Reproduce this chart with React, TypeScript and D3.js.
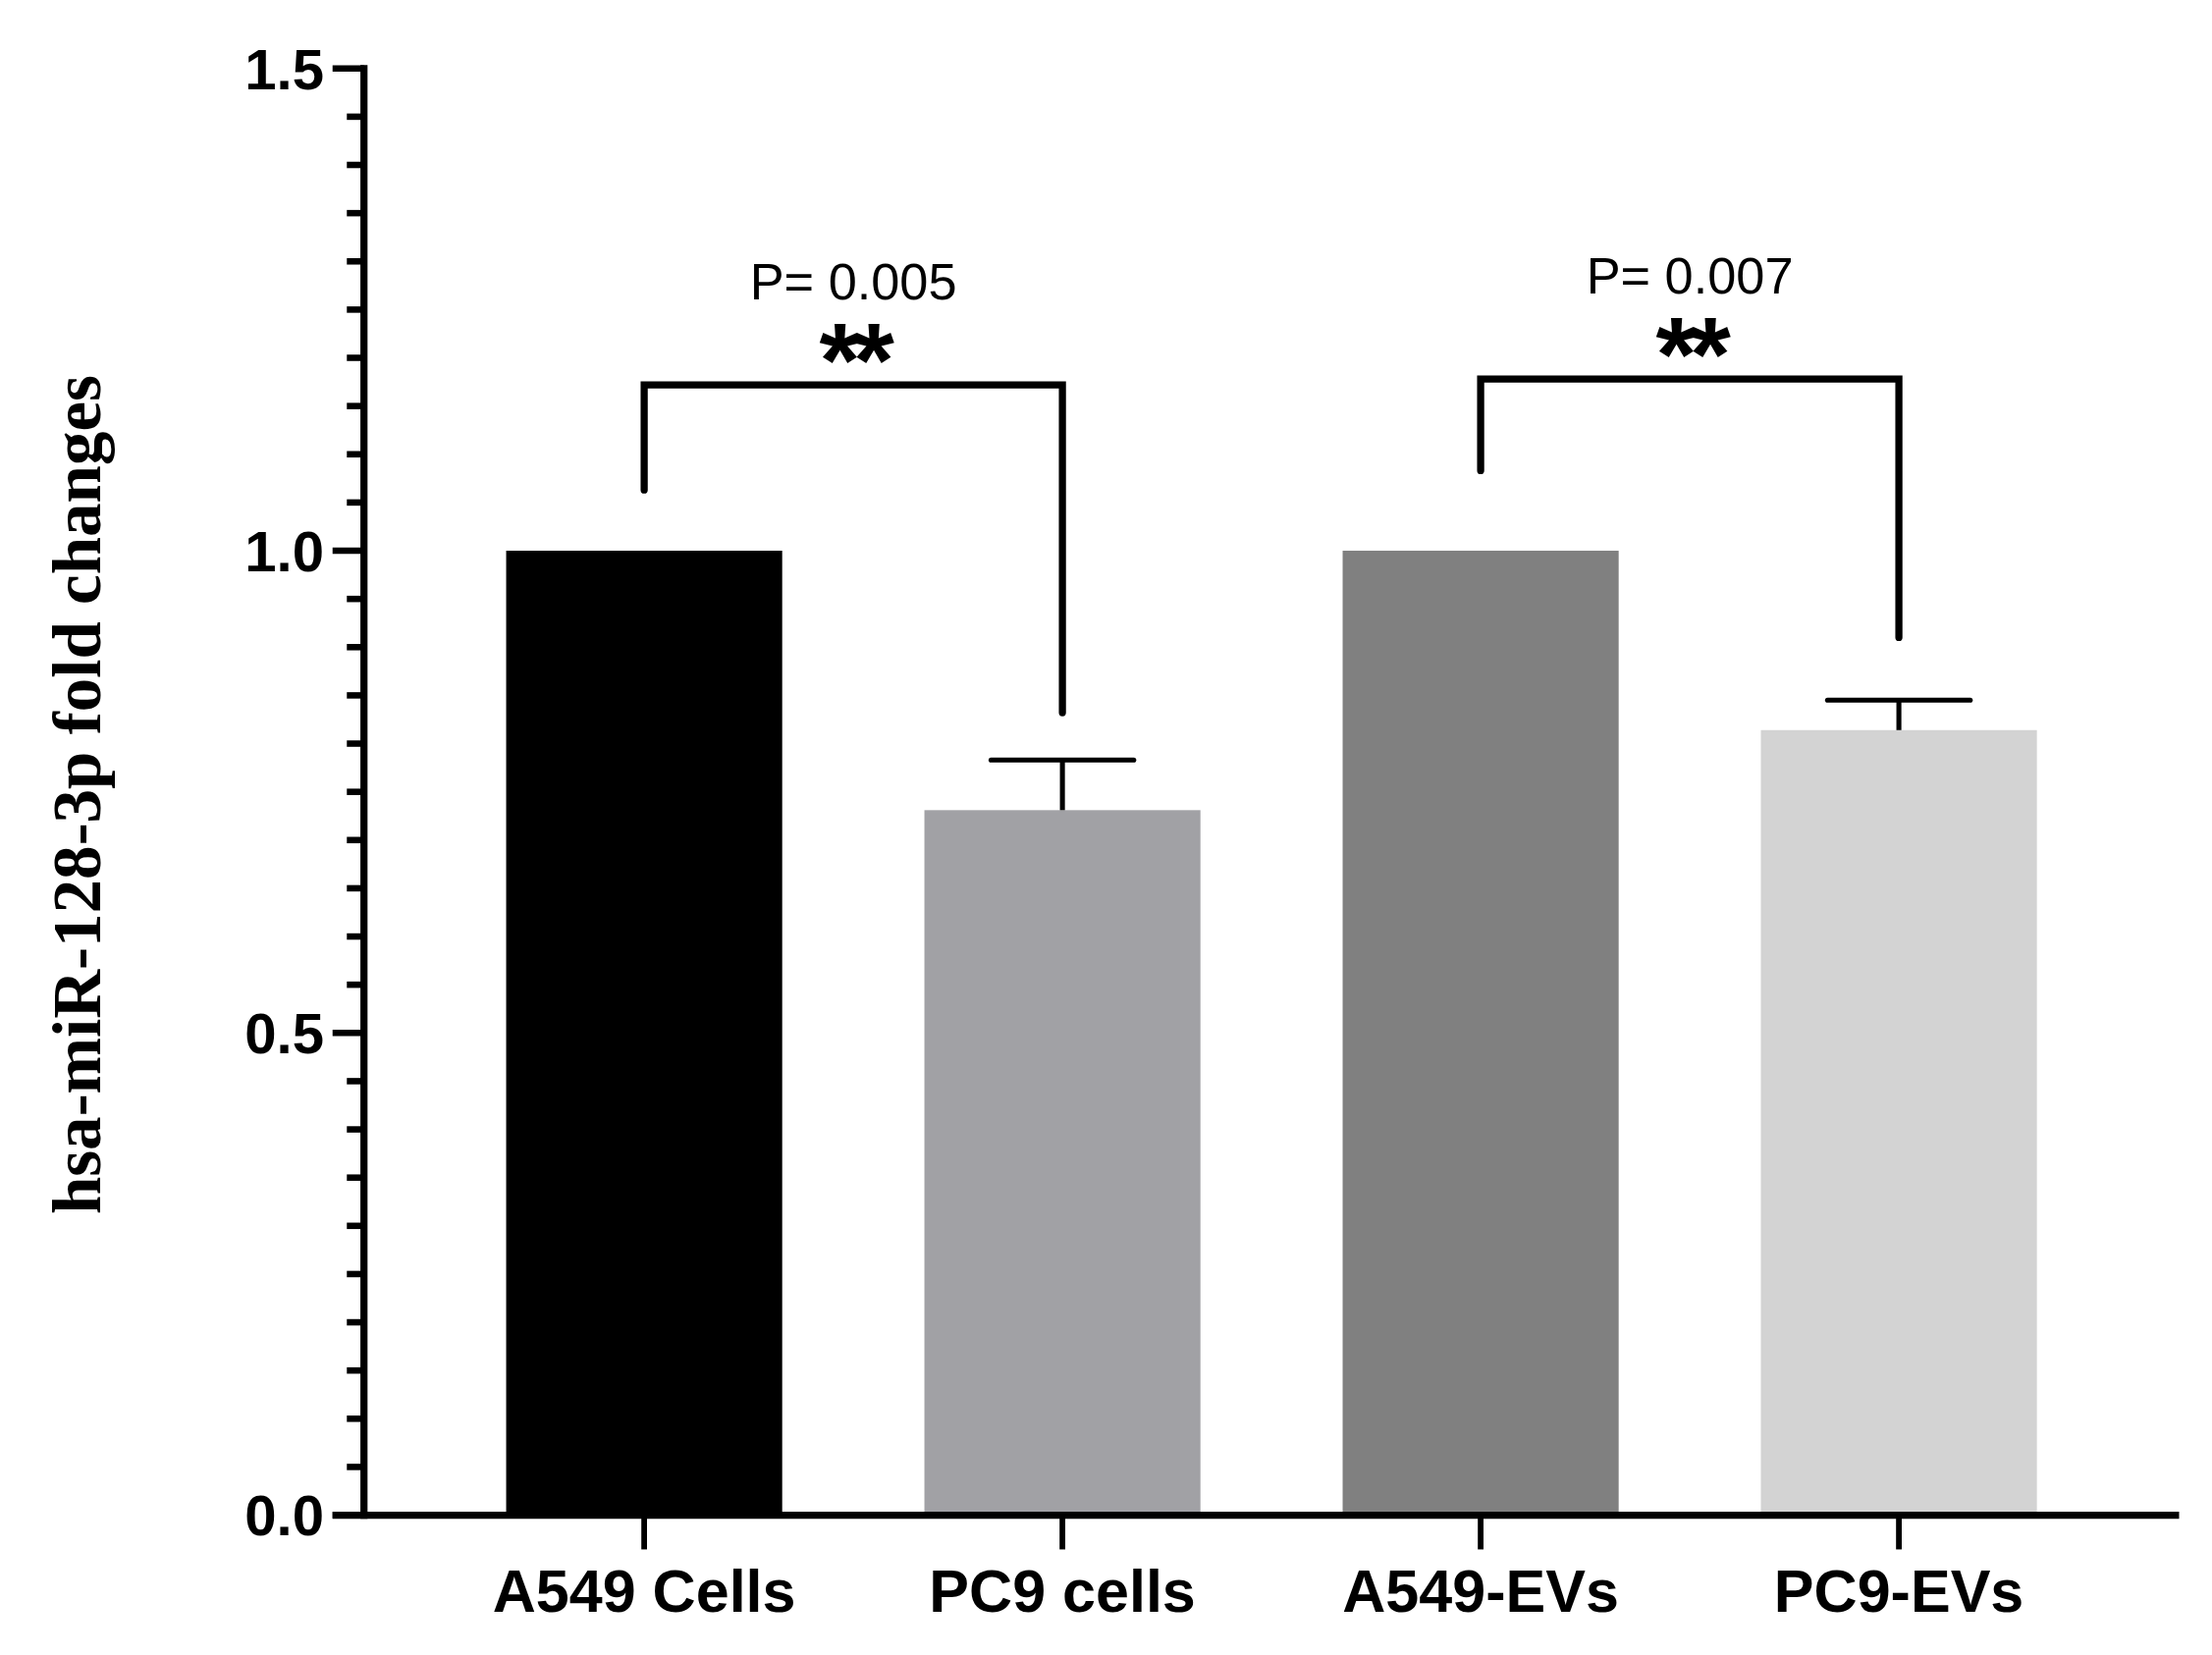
import React, { useRef, useEffect } from 'react';
import * as d3 from 'd3';

// chart values
const categories = ['A549 Cells', 'PC9 cells', 'A549-EVs', 'PC9-EVs'];
const means = [1.0, 0.731, 1.0, 0.814];
const sems = [0, 0.052, 0, 0.031];
const barColors = ['#000000', '#a1a1a5', '#808080', '#d3d3d3'];
const yMajorTicks = [0, 0.5, 1.0, 1.5];

// significance brackets: pair of bar indices, leg ends and bar height (data units)
const bracketPairs: [number, number][] = [[0, 1], [2, 3]];
const bracketLeftEnd = [1.063, 1.083];
const bracketRightEnd = [0.832, 0.91];
const bracketTop = [1.172, 1.178];
const pLabels = ['P= 0.005', 'P= 0.007'];
const starLabels = ['**', '**'];

const VB_W = 1550;
const VB_H = 1160;

const App: React.FC = () => {
    const svgRef = useRef<SVGSVGElement>(null);

    useEffect(() => {
        document.body.style.margin = '0';
        if (!svgRef.current) return;
        const svg = d3.select(svgRef.current);
        svg.selectAll('*').remove();

        const left = 255, right = 1527, top = 48, bottom = 1062;

        const x = d3.scaleBand<string>()
            .domain(categories)
            .range([left, right])
            .paddingInner(0.34)
            .paddingOuter(0.34);

        const y = d3.scaleLinear().domain([0, 1.5]).range([bottom, top]);

        const sans = '"Liberation Sans", Arial, Helvetica, sans-serif';

        // Bars
        svg.append('g')
            .selectAll('rect')
            .data(categories)
            .enter()
            .append('rect')
            .attr('x', (d: string) => x(d)!)
            .attr('y', (_d: string, i: number) => y(means[i]))
            .attr('width', x.bandwidth())
            .attr('height', (_d: string, i: number) => bottom - y(means[i]))
            .attr('fill', (_d: string, i: number) => barColors[i]);

        // Error bars (upper only)
        categories.forEach((c, i) => {
            if (!sems[i]) return;
            const cx = x(c)! + x.bandwidth() / 2;
            const g = svg.append('g').attr('stroke', '#000').attr('stroke-width', 3.5);
            g.append('line')
                .attr('x1', cx).attr('x2', cx)
                .attr('y1', y(means[i])).attr('y2', y(means[i] + sems[i]));
            g.append('line')
                .attr('x1', cx - 50).attr('x2', cx + 50)
                .attr('y1', y(means[i] + sems[i])).attr('y2', y(means[i] + sems[i]))
                .attr('stroke-linecap', 'round');
        });

        // Y axis
        const yAxis = svg.append('g');
        yAxis.append('line')
            .attr('x1', left).attr('x2', left)
            .attr('y1', y(0) + 2.5).attr('y2', y(1.5) - 2.5)
            .attr('stroke', '#000').attr('stroke-width', 5);

        const minor = d3.range(0, 30).map(k => k * 0.05).filter(v => !yMajorTicks.some(m => Math.abs(m - v) < 1e-6));
        yAxis.selectAll('line.minor')
            .data(minor)
            .enter()
            .append('line')
            .attr('class', 'minor')
            .attr('x1', left - 12).attr('x2', left)
            .attr('y1', (d: number) => y(d)).attr('y2', (d: number) => y(d))
            .attr('stroke', '#000').attr('stroke-width', 4.5);

        yAxis.selectAll('line.major')
            .data(yMajorTicks)
            .enter()
            .append('line')
            .attr('class', 'major')
            .attr('x1', left - 22).attr('x2', left)
            .attr('y1', (d: number) => y(d)).attr('y2', (d: number) => y(d))
            .attr('stroke', '#000').attr('stroke-width', 4.5);

        yAxis.selectAll('text')
            .data(yMajorTicks)
            .enter()
            .append('text')
            .attr('x', left - 28)
            .attr('y', (d: number) => y(d))
            .attr('dy', '0.36em')
            .attr('text-anchor', 'end')
            .attr('font-family', sans)
            .attr('font-weight', 'bold')
            .attr('font-size', 40)
            .text((d: number) => d3.format('.1f')(d));

        // X axis
        const xAxis = svg.append('g');
        xAxis.append('line')
            .attr('x1', left - 22).attr('x2', right)
            .attr('y1', bottom).attr('y2', bottom)
            .attr('stroke', '#000').attr('stroke-width', 5);

        xAxis.selectAll('line.tick')
            .data(categories)
            .enter()
            .append('line')
            .attr('class', 'tick')
            .attr('x1', (d: string) => x(d)! + x.bandwidth() / 2)
            .attr('x2', (d: string) => x(d)! + x.bandwidth() / 2)
            .attr('y1', bottom).attr('y2', bottom + 24)
            .attr('stroke', '#000').attr('stroke-width', 4);

        xAxis.selectAll('text')
            .data(categories)
            .enter()
            .append('text')
            .attr('x', (d: string) => x(d)! + x.bandwidth() / 2)
            .attr('y', 1130)
            .attr('text-anchor', 'middle')
            .attr('font-family', sans)
            .attr('font-weight', 'bold')
            .attr('font-size', 42)
            .text((d: string) => d);

        // Y axis title
        svg.append('text')
            .attr('transform', `translate(70, 557) rotate(-90)`)
            .attr('text-anchor', 'middle')
            .attr('font-family', '"Liberation Serif", "Times New Roman", serif')
            .attr('font-weight', 'bold')
            .attr('font-size', 47.5)
            .text('hsa-miR-128-3p fold changes');

        // Significance brackets
        bracketPairs.forEach(([a, b], i) => {
            const xa = x(categories[a])! + x.bandwidth() / 2;
            const xb = x(categories[b])! + x.bandwidth() / 2;
            const path = d3.path();
            path.moveTo(xa, y(bracketLeftEnd[i]));
            path.lineTo(xa, y(bracketTop[i]));
            path.lineTo(xb, y(bracketTop[i]));
            path.lineTo(xb, y(bracketRightEnd[i]));
            svg.append('path')
                .attr('d', path.toString())
                .attr('fill', 'none')
                .attr('stroke', '#000')
                .attr('stroke-width', 5)
                .attr('stroke-linecap', 'round')
                .attr('stroke-linejoin', 'miter');

            const mid = (xa + xb) / 2;
            svg.append('text')
                .attr('x', mid)
                .attr('y', y(bracketTop[i]) + 8)
                .attr('text-anchor', 'middle')
                .attr('font-family', sans)
                .attr('font-weight', 'bold')
                .attr('font-size', 74)
                .attr('letter-spacing', -5)
                .text(starLabels[i]);

            svg.append('text')
                .attr('x', mid)
                .attr('y', y(bracketTop[i]) - 60)
                .attr('text-anchor', 'middle')
                .attr('font-family', sans)
                .attr('font-size', 36)
                .text(pLabels[i]);
        });
    }, []);

    return (
        <svg
            ref={svgRef}
            width={2253}
            height={1686}
            viewBox={`0 0 ${VB_W} ${VB_H}`}
            style={{ position: 'absolute', left: 0, top: 0, background: '#fff' }}
        />
    );
};

export default App;
